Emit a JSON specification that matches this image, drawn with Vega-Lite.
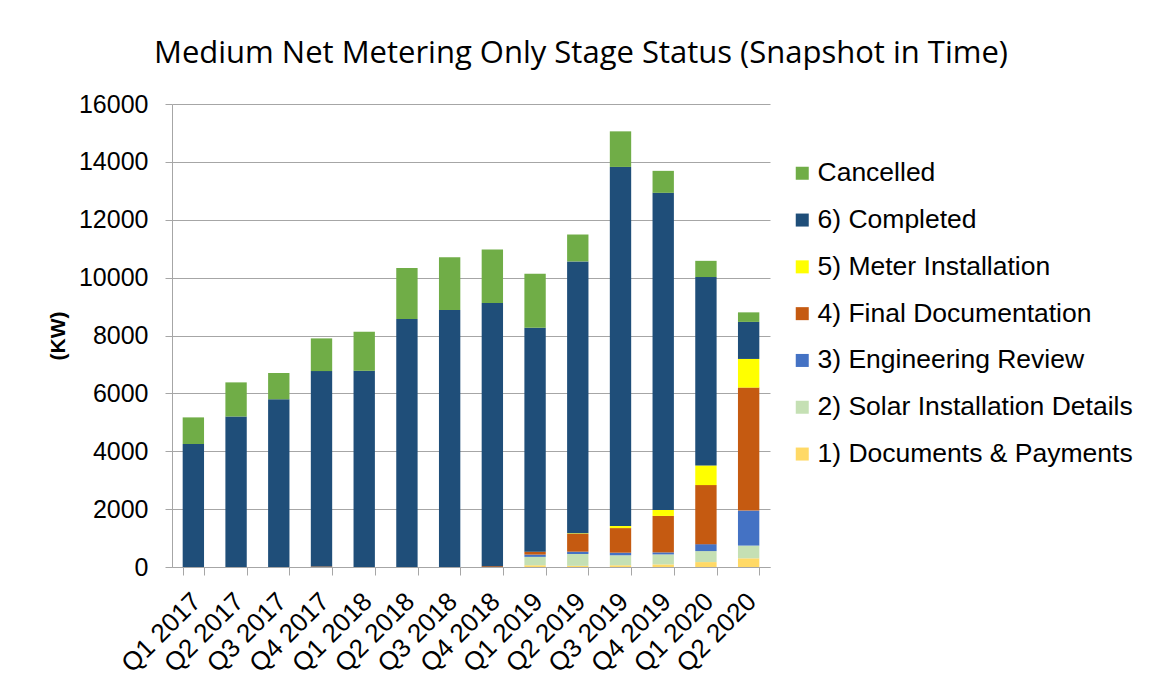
{
  "$schema": "https://vega.github.io/schema/vega-lite/v6.json",
  "autosize": {"type": "none"},
  "padding": {"left": 172, "top": 104, "right": 387, "bottom": 133},
  "width": 598,
  "height": 463,
  "background": "white",
  "title": {
    "text": "Medium Net Metering Only Stage Status (Snapshot in Time)",
    "font": "Open Sans",
    "fontSize": 31,
    "fontWeight": "normal",
    "color": "black",
    "anchor": "middle",
    "frame": "group",
    "dx": 110,
    "offset": 22
  },
  "data": {
    "values": [
      {"quarter": "Q1 2017", "stage": "6) Completed", "kw": 4250},
      {"quarter": "Q1 2017", "stage": "Cancelled", "kw": 920},
      {"quarter": "Q2 2017", "stage": "6) Completed", "kw": 5200},
      {"quarter": "Q2 2017", "stage": "Cancelled", "kw": 1180},
      {"quarter": "Q3 2017", "stage": "6) Completed", "kw": 5800},
      {"quarter": "Q3 2017", "stage": "Cancelled", "kw": 900},
      {"quarter": "Q4 2017", "stage": "4) Final Documentation", "kw": 20},
      {"quarter": "Q4 2017", "stage": "6) Completed", "kw": 6750},
      {"quarter": "Q4 2017", "stage": "Cancelled", "kw": 1130},
      {"quarter": "Q1 2018", "stage": "6) Completed", "kw": 6780},
      {"quarter": "Q1 2018", "stage": "Cancelled", "kw": 1350},
      {"quarter": "Q2 2018", "stage": "6) Completed", "kw": 8570},
      {"quarter": "Q2 2018", "stage": "Cancelled", "kw": 1760},
      {"quarter": "Q3 2018", "stage": "6) Completed", "kw": 8880},
      {"quarter": "Q3 2018", "stage": "Cancelled", "kw": 1820},
      {"quarter": "Q4 2018", "stage": "4) Final Documentation", "kw": 30},
      {"quarter": "Q4 2018", "stage": "6) Completed", "kw": 9090},
      {"quarter": "Q4 2018", "stage": "Cancelled", "kw": 1850},
      {"quarter": "Q1 2019", "stage": "1) Documents & Payments", "kw": 60},
      {"quarter": "Q1 2019", "stage": "2) Solar Installation Details", "kw": 290},
      {"quarter": "Q1 2019", "stage": "3) Engineering Review", "kw": 80},
      {"quarter": "Q1 2019", "stage": "4) Final Documentation", "kw": 100},
      {"quarter": "Q1 2019", "stage": "6) Completed", "kw": 7740},
      {"quarter": "Q1 2019", "stage": "Cancelled", "kw": 1860},
      {"quarter": "Q2 2019", "stage": "1) Documents & Payments", "kw": 40},
      {"quarter": "Q2 2019", "stage": "2) Solar Installation Details", "kw": 410},
      {"quarter": "Q2 2019", "stage": "3) Engineering Review", "kw": 80},
      {"quarter": "Q2 2019", "stage": "4) Final Documentation", "kw": 620},
      {"quarter": "Q2 2019", "stage": "5) Meter Installation", "kw": 20},
      {"quarter": "Q2 2019", "stage": "6) Completed", "kw": 9390},
      {"quarter": "Q2 2019", "stage": "Cancelled", "kw": 930},
      {"quarter": "Q3 2019", "stage": "1) Documents & Payments", "kw": 60},
      {"quarter": "Q3 2019", "stage": "2) Solar Installation Details", "kw": 345},
      {"quarter": "Q3 2019", "stage": "3) Engineering Review", "kw": 90},
      {"quarter": "Q3 2019", "stage": "4) Final Documentation", "kw": 850},
      {"quarter": "Q3 2019", "stage": "5) Meter Installation", "kw": 70},
      {"quarter": "Q3 2019", "stage": "6) Completed", "kw": 12410},
      {"quarter": "Q3 2019", "stage": "Cancelled", "kw": 1230},
      {"quarter": "Q4 2019", "stage": "1) Documents & Payments", "kw": 90},
      {"quarter": "Q4 2019", "stage": "2) Solar Installation Details", "kw": 345},
      {"quarter": "Q4 2019", "stage": "3) Engineering Review", "kw": 70},
      {"quarter": "Q4 2019", "stage": "4) Final Documentation", "kw": 1260},
      {"quarter": "Q4 2019", "stage": "5) Meter Installation", "kw": 205},
      {"quarter": "Q4 2019", "stage": "6) Completed", "kw": 10960},
      {"quarter": "Q4 2019", "stage": "Cancelled", "kw": 760},
      {"quarter": "Q1 2020", "stage": "1) Documents & Payments", "kw": 170},
      {"quarter": "Q1 2020", "stage": "2) Solar Installation Details", "kw": 380},
      {"quarter": "Q1 2020", "stage": "3) Engineering Review", "kw": 240},
      {"quarter": "Q1 2020", "stage": "4) Final Documentation", "kw": 2040},
      {"quarter": "Q1 2020", "stage": "5) Meter Installation", "kw": 680},
      {"quarter": "Q1 2020", "stage": "6) Completed", "kw": 6510},
      {"quarter": "Q1 2020", "stage": "Cancelled", "kw": 560},
      {"quarter": "Q2 2020", "stage": "1) Documents & Payments", "kw": 300},
      {"quarter": "Q2 2020", "stage": "2) Solar Installation Details", "kw": 440},
      {"quarter": "Q2 2020", "stage": "3) Engineering Review", "kw": 1210},
      {"quarter": "Q2 2020", "stage": "4) Final Documentation", "kw": 4250},
      {"quarter": "Q2 2020", "stage": "5) Meter Installation", "kw": 990},
      {"quarter": "Q2 2020", "stage": "6) Completed", "kw": 1280},
      {"quarter": "Q2 2020", "stage": "Cancelled", "kw": 330}
    ]
  },
  "mark": {"type": "bar"},
  "encoding": {
    "x": {
      "field": "quarter",
      "type": "nominal",
      "sort": null,
      "scale": {"paddingInner": 0.5, "paddingOuter": 0.25},
      "axis": {
        "title": null,
        "labelAngle": -45,
        "labelAlign": "right",
        "labelBaseline": "middle",
        "labelFont": "Liberation Sans",
        "labelFontSize": 26,
        "labelColor": "black",
        "labelPadding": 22,
        "labelOffset": 3,
        "tickBand": "extent",
        "tickSize": 8,
        "tickColor": "#a6a6a6",
        "domainColor": "#a6a6a6",
        "grid": false
      }
    },
    "y": {
      "field": "kw",
      "type": "quantitative",
      "aggregate": "sum",
      "stack": "zero",
      "scale": {"domain": [0, 16000], "nice": false},
      "axis": {
        "title": "(KW)",
        "titleFont": "Liberation Sans",
        "titleFontSize": 21,
        "titleFontWeight": "bold",
        "titleColor": "black",
        "titlePadding": 10,
        "format": "d",
        "values": [0, 2000, 4000, 6000, 8000, 10000, 12000, 14000, 16000],
        "labelFont": "Liberation Sans",
        "labelFontSize": 25,
        "labelColor": "black",
        "labelPadding": 17,
        "tickSize": 7,
        "tickColor": "#a6a6a6",
        "domainColor": "#a6a6a6",
        "gridColor": "#a6a6a6",
        "grid": true
      }
    },
    "color": {
      "field": "stage",
      "type": "nominal",
      "scale": {
        "domain": ["Cancelled", "6) Completed", "5) Meter Installation", "4) Final Documentation", "3) Engineering Review", "2) Solar Installation Details", "1) Documents & Payments"],
        "range": ["#70AD47", "#1F4E79", "#FFFF00", "#C55A11", "#4472C4", "#C5E0B4", "#FFD966"]
      },
      "legend": {
        "title": null,
        "orient": "none",
        "legendX": 617,
        "legendY": 56,
        "symbolType": "square",
        "symbolSize": 169,
        "symbolStrokeWidth": 0,
        "labelFont": "Liberation Sans",
        "labelFontSize": 26.5,
        "labelColor": "black",
        "labelOffset": 2,
        "rowPadding": 19.8,
        "labelLimit": 400
      }
    },
    "order": {"field": "stage", "sort": "ascending"}
  },
  "config": {
    "view": {"stroke": null}
  }
}
